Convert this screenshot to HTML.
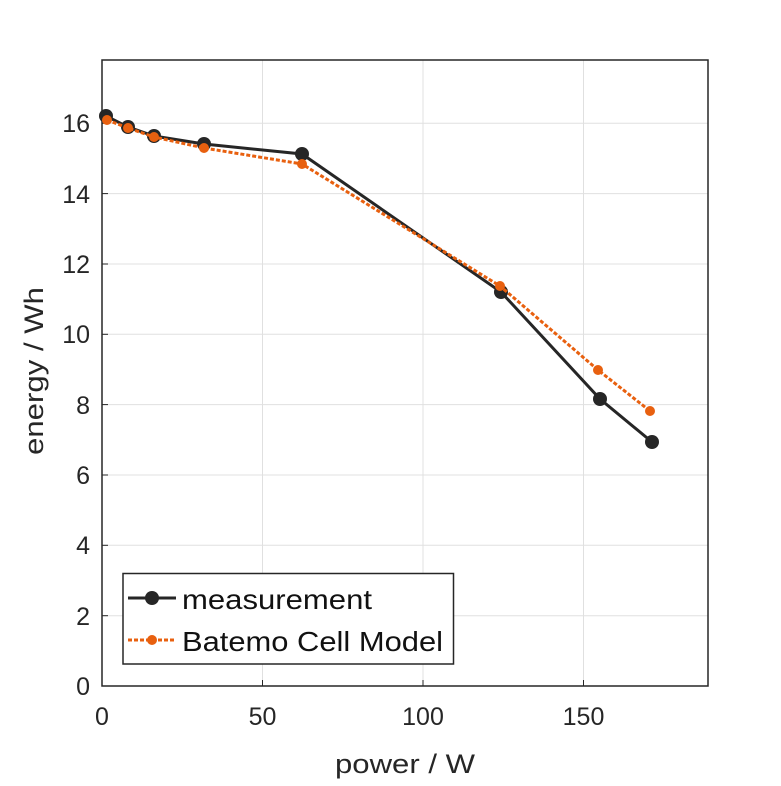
<!DOCTYPE html>
<html><head><meta charset="utf-8"><style>
html,body{margin:0;padding:0;background:#fff;}
text{font-family:"Liberation Sans",sans-serif;fill:#262626;}
</style></head><body>
<svg width="781" height="781" viewBox="0 0 781 781" xmlns="http://www.w3.org/2000/svg">
<rect x="0" y="0" width="781" height="781" fill="#fff"/>
<g stroke="#e0e0e0" stroke-width="1">
<line x1="262.5" y1="60" x2="262.5" y2="686"/>
<line x1="423" y1="60" x2="423" y2="686"/>
<line x1="583.5" y1="60" x2="583.5" y2="686"/>
<line x1="102" y1="615.7" x2="708" y2="615.7"/>
<line x1="102" y1="545.3" x2="708" y2="545.3"/>
<line x1="102" y1="475" x2="708" y2="475"/>
<line x1="102" y1="404.6" x2="708" y2="404.6"/>
<line x1="102" y1="334.3" x2="708" y2="334.3"/>
<line x1="102" y1="264" x2="708" y2="264"/>
<line x1="102" y1="193.6" x2="708" y2="193.6"/>
<line x1="102" y1="123.3" x2="708" y2="123.3"/>
</g>
<rect x="102" y="60" width="606" height="626" fill="none" stroke="#262626" stroke-width="1.5"/>
<g stroke="#262626" stroke-width="1">
<line x1="262.5" y1="686" x2="262.5" y2="680"/><line x1="423" y1="686" x2="423" y2="680"/><line x1="583.5" y1="686" x2="583.5" y2="680"/>
<line x1="102" y1="615.7" x2="108" y2="615.7"/><line x1="102" y1="545.3" x2="108" y2="545.3"/><line x1="102" y1="475" x2="108" y2="475"/><line x1="102" y1="404.6" x2="108" y2="404.6"/><line x1="102" y1="334.3" x2="108" y2="334.3"/><line x1="102" y1="264" x2="108" y2="264"/><line x1="102" y1="193.6" x2="108" y2="193.6"/><line x1="102" y1="123.3" x2="108" y2="123.3"/>
</g>
<g font-size="25" text-anchor="middle">
<text x="102" y="725">0</text><text x="262.5" y="725">50</text><text x="423" y="725">100</text><text x="583.5" y="725">150</text>
</g>
<g font-size="25" text-anchor="end">
<text x="90" y="695">0</text><text x="90" y="625">2</text><text x="90" y="554">4</text><text x="90" y="484">6</text><text x="90" y="414">8</text><text x="90" y="343">10</text><text x="90" y="273">12</text><text x="90" y="203">14</text><text x="90" y="132">16</text>
</g>
<text x="335" y="773" font-size="27" textLength="140" lengthAdjust="spacingAndGlyphs">power / W</text>
<text transform="translate(43,455) rotate(-90)" font-size="27" textLength="168" lengthAdjust="spacingAndGlyphs">energy / Wh</text>
<polyline fill="none" stroke="#262626" stroke-width="3" points="106,116 128,127 154,136 204,144 302,154 501,292 600,399 652,442"/>
<g fill="#262626"><circle cx="106" cy="116" r="7"/><circle cx="128" cy="127" r="7"/><circle cx="154" cy="136" r="7"/><circle cx="204" cy="144" r="7"/><circle cx="302" cy="154" r="7"/><circle cx="501" cy="292" r="7"/><circle cx="600" cy="399" r="7"/><circle cx="652" cy="442" r="7"/></g>
<polyline fill="none" stroke="#e8600f" stroke-width="3" stroke-dasharray="4,2" points="107,120 128,128 154,137 204,148 302,164 500,286 598,370 650,411"/>
<g fill="#e8600f"><circle cx="107" cy="120" r="5"/><circle cx="128" cy="128" r="5"/><circle cx="154" cy="137" r="5"/><circle cx="204" cy="148" r="5"/><circle cx="302" cy="164" r="5"/><circle cx="500" cy="286" r="5"/><circle cx="598" cy="370" r="5"/><circle cx="650" cy="411" r="5"/></g>
<rect x="123" y="573.5" width="330.5" height="90.5" fill="#fff" stroke="#262626" stroke-width="1.5"/>
<line x1="128" y1="598" x2="176" y2="598" stroke="#262626" stroke-width="3"/>
<circle cx="152" cy="598" r="7" fill="#262626"/>
<line x1="128" y1="640" x2="176" y2="640" stroke="#e8600f" stroke-width="3" stroke-dasharray="4,2"/>
<circle cx="152" cy="640" r="5" fill="#e8600f"/>
<text x="182" y="609" font-size="28" textLength="190" lengthAdjust="spacingAndGlyphs" style="fill:#111">measurement</text>
<text x="182" y="651" font-size="28" textLength="261" lengthAdjust="spacingAndGlyphs" style="fill:#111">Batemo Cell Model</text>
</svg>
</body></html>
